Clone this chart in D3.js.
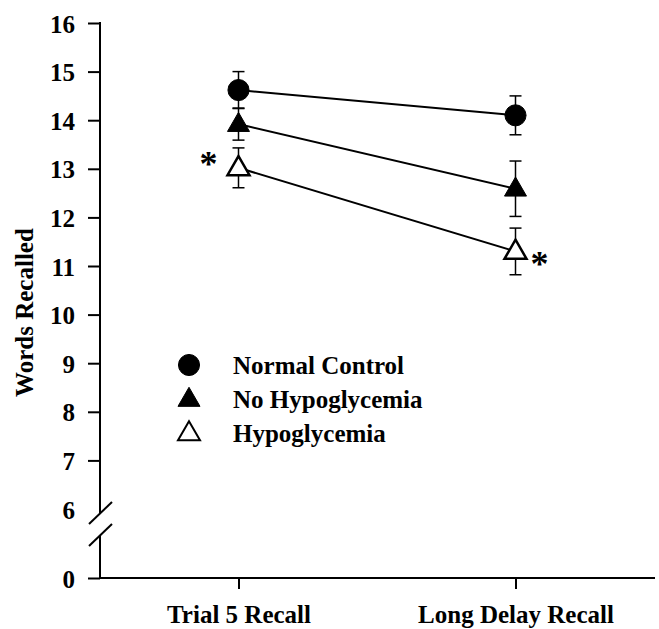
<!DOCTYPE html>
<html>
<head>
<meta charset="utf-8">
<script src="https://cdn.jsdelivr.net/npm/d3@7"></script>
<style>
  html, body { margin: 0; padding: 0; background: #fff; }
  svg { display: block; font-family: 'Liberation Serif', 'Times New Roman', serif; font-weight: bold; }
  .axis text { font-size: 25px; font-weight: bold; fill: #000; font-family: 'Liberation Serif', 'Times New Roman', serif; }
  .axis line { stroke: #000; stroke-width: 2; }
</style>
</head>
<body>
<svg id="chart"></svg>
<script>
const conditions = ['Trial 5 Recall', 'Long Delay Recall'];
const groups = ['Normal Control', 'No Hypoglycemia', 'Hypoglycemia'];
const meanNormal = [14.62, 14.1];
const seNormal = [0.38, 0.4];
const meanNoHypo = [13.92, 12.59];
const seNoHypo = [0.33, 0.57];
const meanHypo = [13.02, 11.3];
const seHypo = [0.41, 0.48];
const yTicks = [0, 6, 7, 8, 9, 10, 11, 12, 13, 14, 15, 16];
// significance asterisks on the hypoglycemia group
const sigMarks = [
  { condition: 'Trial 5 Recall', dx: -30, dy: 8 },
  { condition: 'Long Delay Recall', dx: 24, dy: 25 }
];

const width = 659;
const height = 629;
const svg = d3.select('#chart').attr('width', width).attr('height', height).attr('viewBox', `0 0 ${width} ${height}`);

const x = d3.scalePoint().domain(conditions).range([100, 654]).padding(0.5);
// broken axis: 0..6 squeezed into the bottom segment
const y = d3.scaleLinear().domain([0, 6, 16]).range([578, 509, 23]);

const series = [
  { name: groups[0], mean: meanNormal, se: seNormal, shape: d3.symbolCircle, fill: '#000' },
  { name: groups[1], mean: meanNoHypo, se: seNoHypo, shape: d3.symbolTriangle, fill: '#000' },
  { name: groups[2], mean: meanHypo, se: seHypo, shape: d3.symbolTriangle, fill: '#fff' }
];
const symbolSize = (shape) => (shape === d3.symbolCircle ? 350 : 210);

// y axis
const yAxis = svg.append('g').attr('class', 'axis').attr('transform', 'translate(100,0)')
  .call(d3.axisLeft(y).tickValues(yTicks).tickSize(12).tickPadding(13).tickFormat(d3.format('d')));
yAxis.select('.domain').remove();
yAxis.selectAll('.tick').filter((d) => d === 6).select('line').remove();
yAxis.selectAll('text').attr('dy', '0.36em');

const breakY = y(6) + 4;
svg.append('line').attr('x1', 100).attr('x2', 100).attr('y1', y(16) - 1).attr('y2', breakY).attr('stroke', '#000').attr('stroke-width', 2);
svg.append('line').attr('x1', 100).attr('x2', 100).attr('y1', breakY + 22).attr('y2', y(0)).attr('stroke', '#000').attr('stroke-width', 2);
[breakY, breakY + 22].forEach((cy) => {
  svg.append('line').attr('x1', 89).attr('y1', cy + 11).attr('x2', 112).attr('y2', cy - 11).attr('stroke', '#000').attr('stroke-width', 2);
});

// x axis
const xAxis = svg.append('g').attr('class', 'axis').attr('transform', `translate(0,${y(0)})`)
  .call(d3.axisBottom(x).tickSize(11).tickPadding(16).tickSizeOuter(0));
xAxis.select('.domain').remove();
svg.append('line').attr('x1', 99).attr('x2', 655).attr('y1', y(0)).attr('y2', y(0)).attr('stroke', '#000').attr('stroke-width', 2);

svg.append('text').attr('transform', `translate(33,${(y(16) + y(0)) / 2 + 12}) rotate(-90)`)
  .attr('text-anchor', 'middle').attr('font-size', 25).text('Words Recalled');

// lines
const line = d3.line().x((d, i) => x(conditions[i])).y((d) => y(d));
series.forEach((s) => {
  svg.append('path').attr('d', line(s.mean)).attr('fill', 'none').attr('stroke', '#000').attr('stroke-width', 2);
});

// error bars
series.forEach((s) => {
  const g = svg.append('g').attr('stroke', '#000').attr('stroke-width', 1.5);
  s.mean.forEach((m, i) => {
    const cx = x(conditions[i]);
    g.append('line').attr('x1', cx).attr('x2', cx).attr('y1', y(m + s.se[i])).attr('y2', y(m - s.se[i]));
    [m + s.se[i], m - s.se[i]].forEach((v) => {
      g.append('line').attr('x1', cx - 6).attr('x2', cx + 6).attr('y1', y(v)).attr('y2', y(v));
    });
  });
});

// markers
series.forEach((s) => {
  svg.append('g').selectAll('path').data(s.mean).join('path')
    .attr('transform', (d, i) => `translate(${x(conditions[i])},${y(d) + (s.shape === d3.symbolTriangle ? 1 : 0)})`)
    .attr('d', d3.symbol().type(s.shape).size(symbolSize(s.shape)))
    .attr('fill', s.fill).attr('stroke', '#000').attr('stroke-width', s.fill === '#fff' ? 2.5 : 1);
});

// asterisks
sigMarks.forEach((m) => {
  const i = conditions.indexOf(m.condition);
  svg.append('text').attr('x', x(m.condition) + m.dx).attr('y', y(meanHypo[i]) + m.dy)
    .attr('text-anchor', 'middle').attr('font-size', 36).text('*');
});

// legend
const legend = svg.append('g').attr('transform', 'translate(189,365)');
series.forEach((s, i) => {
  const row = legend.append('g').attr('transform', `translate(0,${i * 34})`);
  row.append('path').attr('transform', `translate(0,${s.shape === d3.symbolTriangle ? 1 : 0})`)
    .attr('d', d3.symbol().type(s.shape).size(symbolSize(s.shape)))
    .attr('fill', s.fill).attr('stroke', '#000').attr('stroke-width', s.fill === '#fff' ? 2 : 1);
  row.append('text').attr('x', 44).attr('y', 9).attr('font-size', 25).text(s.name);
});
</script>
</body>
</html>
